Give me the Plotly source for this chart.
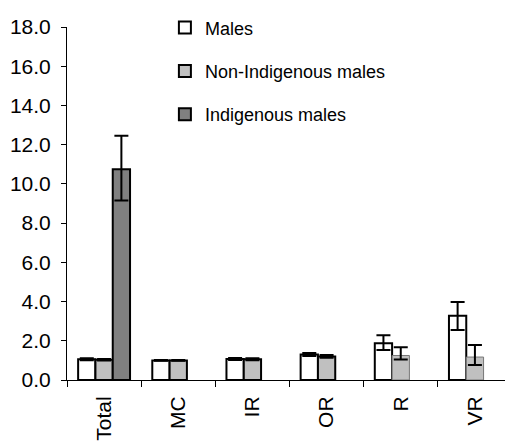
import plotly.graph_objects as go

categories = ["Total", "MC", "IR", "OR", "R", "VR"]

males = [1.06, 1.0, 1.07, 1.3, 1.88, 3.28]
males_err_plus = [0.05, 0.02, 0.05, 0.08, 0.40, 0.70]
males_err_minus = [0.05, 0.02, 0.05, 0.08, 0.35, 0.73]

non_indig = [1.03, 1.0, 1.06, 1.2, 1.25, 1.17]
non_indig_err_plus = [0.04, 0.02, 0.05, 0.07, 0.42, 0.61]
non_indig_err_minus = [0.04, 0.02, 0.05, 0.07, 0.20, 0.40]

indig = [10.75, None, None, None, None, None]
indig_err_plus = [1.7, 0, 0, 0, 0, 0]
indig_err_minus = [1.6, 0, 0, 0, 0, 0]

FONT = "Liberation Sans, Arial, sans-serif"

def err(plus, minus):
    return dict(type="data", symmetric=False, array=plus, arrayminus=minus,
                color="black", thickness=2, width=7)

fig = go.Figure()
fig.add_trace(go.Bar(
    x=categories, y=males, name="Males", legendgroup="a",
    marker=dict(color="white", line=dict(color="black", width=2)),
    error_y=err(males_err_plus, males_err_minus),
))
# R and VR bars in the reference have a dashed outline
ni_line_colors = ["black", "black", "black", "black", "#777777", "#777777"]
ni_line_widths = [2, 2, 2, 2, 1, 1]
fig.add_trace(go.Bar(
    x=categories, y=non_indig, name="Non-Indigenous males", legendgroup="b",
    marker=dict(color="#c0c0c0", line=dict(color=ni_line_colors, width=ni_line_widths)),
    error_y=err(non_indig_err_plus, non_indig_err_minus),
))
fig.add_trace(go.Bar(
    x=categories, y=indig, name="Indigenous males", legendgroup="c",
    marker=dict(color="#808080", line=dict(color="black", width=2)),
    error_y=err(indig_err_plus, indig_err_minus),
))

# page body adds 8px margin, so the figure is a bit smaller than the window
fig.update_layout(
    width=505, height=437,
    margin=dict(l=59, r=1, t=13, b=65),
    plot_bgcolor="white", paper_bgcolor="white",
    font=dict(family=FONT, size=21, color="black"),
    barmode="group", bargap=0.3, bargroupgap=0,
    legend=dict(x=0.22, y=1.05, xanchor="left", yanchor="top",
                bgcolor="rgba(0,0,0,0)", tracegroupgap=17,
                font=dict(size=18)),
    xaxis=dict(showline=True, linecolor="black", linewidth=1,
               ticks="outside", tickson="boundaries", ticklen=6,
               tickcolor="black", tickangle=-90, showgrid=False,
               ticklabelstandoff=7, automargin=False),
    yaxis=dict(range=[0, 18], dtick=2, tickformat=".1f",
               showline=True, linecolor="black", linewidth=1,
               ticks="outside", ticklen=5, tickcolor="black",
               showgrid=False, zeroline=False,
               ticklabelstandoff=6, automargin=False),
)

fig.write_html("out.html")
